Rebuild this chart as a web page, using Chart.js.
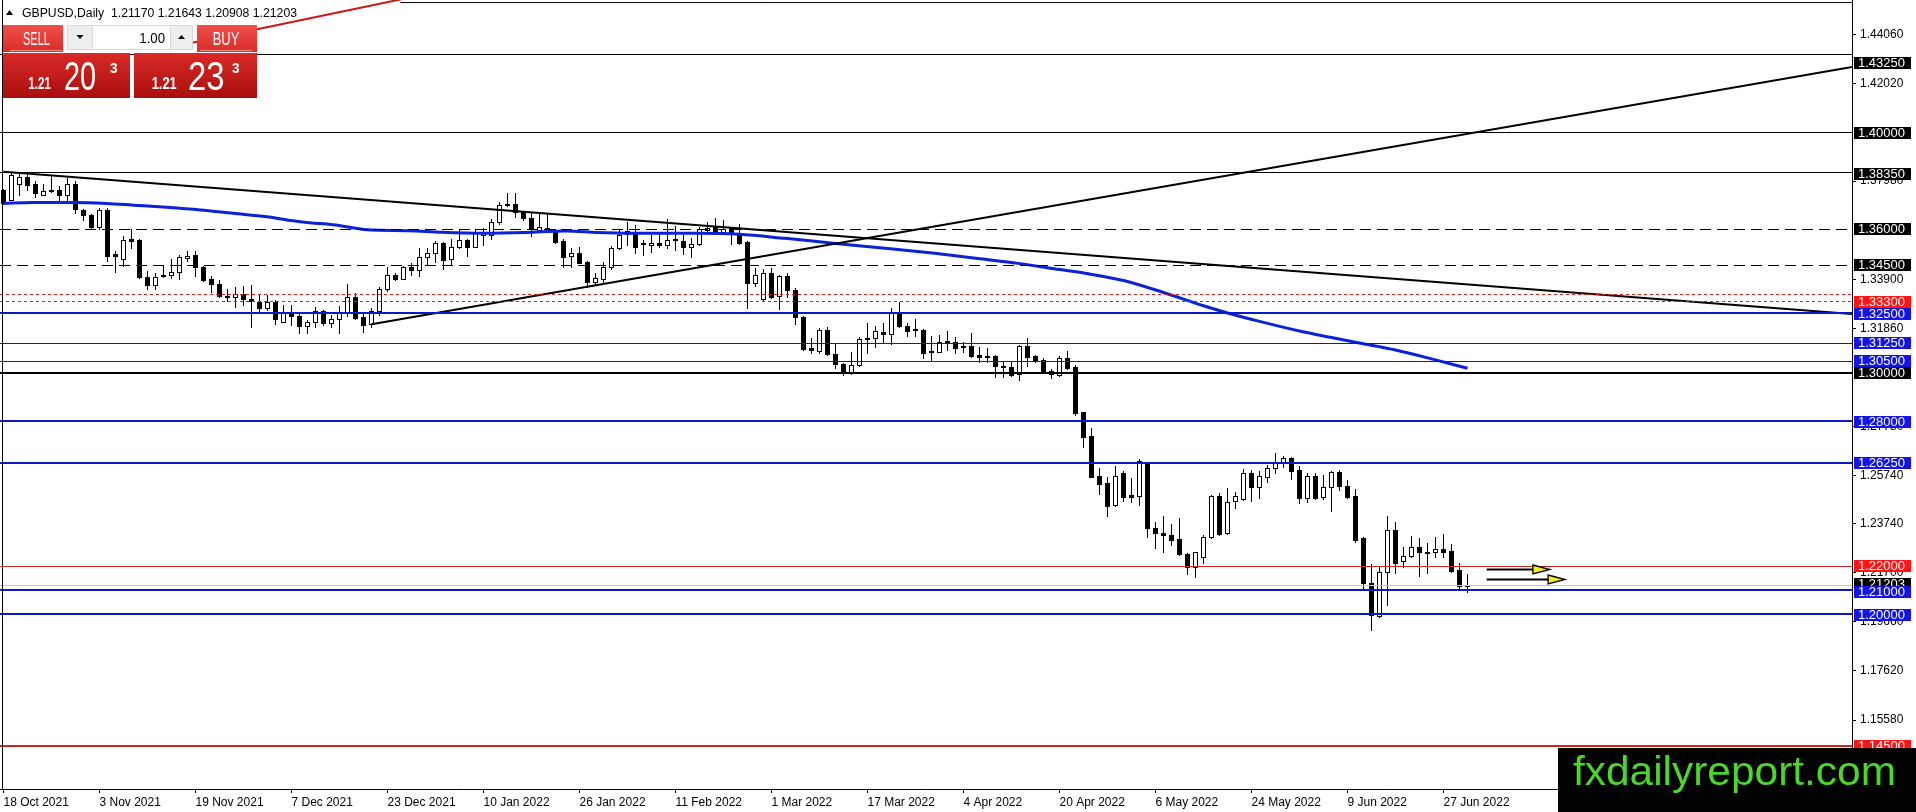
<!DOCTYPE html>
<html><head><meta charset="utf-8">
<style>html,body{margin:0;padding:0;background:#fff;overflow:hidden}canvas{display:block}</style>
<script src="https://cdn.jsdelivr.net/npm/chart.js@4.4.1/dist/chart.umd.min.js"></script>
</head><body>
<canvas id="c" width="1916" height="812" style="width:1916px;height:812px"></canvas>
<script>
// ---------- data ----------
const symbolTitle = 'GBPUSD,Daily';
const lastQuote = [1.21170, 1.21643, 1.20908, 1.21203];
const bidPrice = 1.21203;
const sellQuote = ['1.21', '20', '3'];
const buyQuote = ['1.21', '23', '3'];
const lotSize = '1.00';
const watermark = 'fxdailyreport.com';

const dateLabels = ['18 Oct 2021','3 Nov 2021','19 Nov 2021','7 Dec 2021','23 Dec 2021','10 Jan 2022','26 Jan 2022','11 Feb 2022','1 Mar 2022','17 Mar 2022','4 Apr 2022','20 Apr 2022','6 May 2022','24 May 2022','9 Jun 2022','27 Jun 2022'];
const dateLabelIndex = [0,12,24,36,48,60,72,84,96,108,120,132,144,156,168,180];

const priceTicks = [1.44060, 1.42020, 1.37980, 1.33900, 1.31860, 1.27780, 1.25740, 1.23740, 1.21700, 1.19660, 1.17620, 1.15580];

const opens = [1.3761,1.3719,1.3786,1.3816,1.3786,1.3740,1.3755,1.3761,1.3741,1.3786,1.3678,1.3658,1.3606,1.3678,1.3495,1.3474,1.3557,1.3554,1.3398,1.3366,
1.3407,1.3407,1.3421,1.3478,1.3491,1.3439,1.3391,1.3370,1.3322,1.3317,1.3328,1.3309,1.3294,1.3270,1.3294,1.3213,1.3256,1.3238,1.3197,1.3213,
1.3259,1.3208,1.3224,1.3256,1.3315,1.3234,1.3204,1.3260,1.3348,1.3408,1.3391,1.3442,1.3429,1.3484,1.3501,1.3542,1.3473,1.3523,1.3553,1.3526,
1.3574,1.3574,1.3629,1.3703,1.3703,1.3671,1.3646,1.3595,1.3605,1.3595,1.3549,1.3487,1.3501,1.3462,1.3377,1.3391,1.3442,1.3519,1.3578,1.3581,
1.3542,1.3532,1.3542,1.3532,1.3557,1.3549,1.3526,1.3537,1.3595,1.3609,1.3588,1.3602,1.3584,1.3546,1.3376,1.3307,1.3415,1.3321,1.3404,1.3345,
1.3235,1.3103,1.3092,1.3179,1.3079,1.3038,1.3000,1.3034,1.3140,1.3145,1.3170,1.3161,1.3255,1.3197,1.3183,1.3179,1.3092,1.3089,1.3132,1.3131,
1.3113,1.3113,1.3075,1.3073,1.3071,1.3030,1.3024,1.2996,1.3113,1.3071,1.3055,1.3010,1.2992,1.3061,1.3027,1.2837,1.2739,1.2572,1.2542,1.2450,
1.2583,1.2493,1.2491,1.2628,1.2355,1.2334,1.2327,1.2309,1.2248,1.2193,1.2234,1.2317,1.2489,1.2334,1.2470,1.2475,1.2583,1.2528,1.2570,1.2604,
1.2628,1.2646,1.2597,1.2480,1.2572,1.2486,1.2525,1.2588,1.2531,1.2489,1.2313,1.2126,1.1992,1.2172,1.2348,1.2219,1.2241,1.2276,1.2258,1.2255,
1.2268,1.2261,1.2182,1.21170];
const highs = [1.3765,1.3833,1.3830,1.3824,1.3800,1.3786,1.3824,1.3779,1.3811,1.3797,1.3682,1.3661,1.3686,1.3686,1.3506,1.3571,1.3599,1.3557,1.3425,1.3416,
1.3445,1.3473,1.3492,1.3509,1.3509,1.3446,1.3405,1.3388,1.3349,1.3356,1.3360,1.3366,1.3326,1.3326,1.3304,1.3284,1.3284,1.3256,1.3220,1.3273,
1.3262,1.3243,1.3280,1.3370,1.3331,1.3245,1.3272,1.3359,1.3440,1.3415,1.3445,1.3456,1.3519,1.3519,1.3551,1.3545,1.3556,1.3598,1.3556,1.3598,
1.3602,1.3639,1.3713,1.3747,1.3747,1.3675,1.3667,1.3664,1.3664,1.3598,1.3556,1.3521,1.3526,1.3465,1.3415,1.3463,1.3528,1.3595,1.3629,1.3616,
1.3553,1.3574,1.3581,1.3639,1.3611,1.3574,1.3560,1.3609,1.3629,1.3643,1.3636,1.3609,1.3620,1.3548,1.3436,1.3431,1.3436,1.3408,1.3415,1.3352,
1.3237,1.3145,1.3189,1.3193,1.3124,1.3040,1.3086,1.3151,1.3210,1.3196,1.3207,1.3272,1.3294,1.3207,1.3225,1.3183,1.3154,1.3158,1.3175,1.3151,
1.3131,1.3165,1.3110,1.3103,1.3075,1.3048,1.3052,1.3117,1.3147,1.3075,1.3061,1.3016,1.3071,1.3093,1.3034,1.2840,1.2770,1.2604,1.2567,1.2614,
1.2595,1.2565,1.2642,1.2632,1.2380,1.2406,1.2373,1.2396,1.2254,1.2258,1.2327,1.2493,1.2500,1.2521,1.2507,1.2601,1.2597,1.2595,1.2618,1.2667,
1.2655,1.2650,1.2614,1.2583,1.2583,1.2577,1.2595,1.2597,1.2556,1.2517,1.2317,1.2205,1.2196,1.2406,1.2383,1.2279,1.2323,1.2313,1.2295,1.2317,
1.2331,1.2289,1.2209,1.21643];
const lows = [1.3703,1.3719,1.3741,1.3761,1.3730,1.3740,1.3751,1.3716,1.3716,1.3664,1.3636,1.3599,1.3599,1.3467,1.3419,1.3445,1.3520,1.3395,1.3349,1.3349,
1.3401,1.3395,1.3391,1.3467,1.3405,1.3381,1.3335,1.3315,1.3301,1.3273,1.3284,1.3190,1.3259,1.3262,1.3204,1.3211,1.3201,1.3165,1.3165,1.3190,
1.3201,1.3190,1.3165,1.3238,1.3224,1.3169,1.3193,1.3242,1.3341,1.3387,1.3390,1.3408,1.3404,1.3449,1.3463,1.3431,1.3454,1.3519,1.3487,1.3524,
1.3532,1.3556,1.3618,1.3696,1.3650,1.3636,1.3570,1.3592,1.3592,1.3542,1.3440,1.3440,1.3456,1.3359,1.3366,1.3380,1.3431,1.3514,1.3532,1.3501,
1.3491,1.3505,1.3526,1.3521,1.3512,1.3495,1.3484,1.3532,1.3581,1.3584,1.3581,1.3537,1.3535,1.3272,1.3362,1.3304,1.3311,1.3266,1.3315,1.3203,
1.3096,1.3082,1.3085,1.3075,1.3020,1.2992,1.2996,1.3030,1.3085,1.3110,1.3127,1.3120,1.3193,1.3154,1.3154,1.3064,1.3050,1.3086,1.3096,1.3085,
1.3089,1.3066,1.3048,1.3048,1.2985,1.2982,1.2988,1.2971,1.3030,1.3048,1.3006,1.2978,1.2989,1.3016,1.2826,1.2694,1.2567,1.2498,1.2408,1.2449,
1.2470,1.2463,1.2452,1.2320,1.2275,1.2258,1.2286,1.2244,1.2164,1.2154,1.2212,1.2313,1.2327,1.2331,1.2438,1.2473,1.2470,1.2480,1.2549,1.2583,
1.2611,1.2559,1.2459,1.2466,1.2477,1.2475,1.2428,1.2514,1.2482,1.2299,1.2101,1.1932,1.1988,1.2036,1.2171,1.2196,1.2237,1.2158,1.2168,1.2237,
1.2234,1.2175,1.2101,1.20908];
const closes = [1.3709,1.3824,1.3816,1.3783,1.3747,1.3755,1.3759,1.3740,1.3786,1.3682,1.3658,1.3608,1.3678,1.3488,1.3488,1.3554,1.3550,1.3398,1.3366,1.3401,
1.3402,1.3421,1.3481,1.3488,1.3439,1.3387,1.3370,1.3322,1.3317,1.3328,1.3308,1.3301,1.3270,1.3294,1.3224,1.3256,1.3238,1.3194,1.3212,1.3259,
1.3207,1.3224,1.3256,1.3315,1.3229,1.3200,1.3260,1.3350,1.3408,1.3391,1.3440,1.3429,1.3484,1.3501,1.3542,1.3470,1.3523,1.3553,1.3526,1.3581,
1.3588,1.3629,1.3699,1.3697,1.3671,1.3643,1.3602,1.3609,1.3595,1.3546,1.3484,1.3501,1.3459,1.3377,1.3397,1.3442,1.3519,1.3574,1.3592,1.3526,
1.3535,1.3542,1.3532,1.3553,1.3553,1.3526,1.3537,1.3598,1.3602,1.3588,1.3598,1.3581,1.3539,1.3376,1.3408,1.3415,1.3318,1.3404,1.3345,1.3232,
1.3099,1.3096,1.3179,1.3079,1.3038,1.3000,1.3034,1.3140,1.3147,1.3176,1.3161,1.3255,1.3197,1.3176,1.3179,1.3085,1.3086,1.3131,1.3129,1.3106,
1.3107,1.3071,1.3066,1.3068,1.3030,1.3027,1.2992,1.3113,1.3068,1.3055,1.3010,1.2996,1.3061,1.3023,1.2833,1.2736,1.2570,1.2538,1.2449,1.2572,
1.2486,1.2486,1.2636,1.2355,1.2334,1.2326,1.2306,1.2247,1.2193,1.2255,1.2317,1.2489,1.2331,1.2466,1.2489,1.2583,1.2528,1.2572,1.2604,1.2632,
1.2646,1.2595,1.2480,1.2572,1.2482,1.2528,1.2588,1.2531,1.2486,1.2306,1.2126,1.1995,1.2172,1.2348,1.2212,1.2241,1.2276,1.2255,1.2255,1.2268,
1.2258,1.2179,1.2117,1.21203];

// moving average (bar index, price)
const maIndex = [0,3.6,8.7,12.9,16.2,20.4,24.6,28.7,32.9,36.2,37.9,41.2,45.5,50.6,54.8,59.8,65.2,70.2,74.3,78.5,86.8,92,97.7,104,110.2,116.4,122.7,126.8,131.1,135.2,140,145,150,153,157,162,166,170,174,179,183];
const maValues = [1.3705,1.3709,1.3709,1.3705,1.3698,1.3689,1.3678,1.3664,1.3650,1.3633,1.3626,1.3617,1.3596,1.3592,1.3585,1.3581,1.3584,1.3591,1.3584,1.3581,1.3581,1.3577,1.3560,1.3539,1.3519,1.3498,1.3473,1.3456,1.3435,1.3415,1.3385,1.3335,1.3280,1.3250,1.3215,1.3175,1.3148,1.3122,1.3096,1.3055,1.3020];

// trend lines (bar index, price)
const trendDownX = [0, 231.06];   const trendDownY = [1.3837, 1.3246];
const trendUpX = [46, 231.06];    const trendUpY = [1.3203, 1.4272];
const redTrendX = [20, 60];       const redTrendY = [1.4348, 1.4625];
const topLineX = [49.6, 231.06];  const topLineY = [1.4540, 1.4540];

// horizontal levels
const levelPrices = [1.43250, 1.40000, 1.38350, 1.36000, 1.34500, 1.33000, 1.33300, 1.32500, 1.31250, 1.30500, 1.30000, 1.28000, 1.26250, 1.22000, 1.21000, 1.20000, 1.14500];

// arrows (bar index start/end, price)
const arrowStartX = [185.4, 185.4];
const arrowEndX = [193.3, 195.2];
const arrowPrice = [1.2186, 1.2143];

// ---------- styles ----------
const BLUE = '#0b17c9', BLUEBG = '#1414e6', RED = '#cc2222', REDBG = '#ff1414';
const levelStyles = [
  {c:'#000', w:1, d:[], bg:'#000', s:9},
  {c:'#000', w:1, d:[], bg:'#000', s:1},
  {c:'#000', w:1, d:[], bg:'#000', s:2},
  {c:'#000', w:1, d:[11,6], bg:'#000', s:0},
  {c:'#000', w:1, d:[11,6], bg:'#000', s:0},
  {c:RED, w:1, d:[3,3], bg:REDBG, s:8},
  {c:RED, w:1, d:[3,3], bg:REDBG, s:8},
  {c:BLUE, w:2, d:[], bg:BLUEBG, s:1},
  {c:BLUE, w:1, d:[], bg:BLUEBG, s:0},
  {c:BLUE, w:1, d:[], bg:BLUEBG, s:0},
  {c:'#000', w:2, d:[], bg:'#000', s:0},
  {c:BLUE, w:2, d:[], bg:BLUEBG, s:1},
  {c:BLUE, w:2, d:[], bg:BLUEBG, s:0},
  {c:RED, w:1, d:[], bg:REDBG, s:0},
  {c:BLUE, w:2, d:[], bg:BLUEBG, s:2},
  {c:BLUE, w:2, d:[], bg:BLUEBG, s:1},
  {c:RED, w:2, d:[], bg:REDBG, s:0}
];
const FONT = '"Liberation Sans", Arial, sans-serif';
Chart.defaults.font.family = FONT;

function pts(xs, ys) { return xs.map((x, i) => ({x: x, y: ys[i]})); }

function fitText(ctx, text, x, y, font, color, width, align) {
  ctx.save();
  ctx.font = font; ctx.fillStyle = color; ctx.textBaseline = 'alphabetic'; ctx.textAlign = 'left';
  const w = ctx.measureText(text).width;
  const s = width / w;
  const x0 = align === 'center' ? x - width / 2 : (align === 'right' ? x - width : x);
  ctx.translate(x0, y); ctx.scale(s, 1); ctx.fillText(text, 0, 0);
  ctx.restore();
}

const candlePlugin = {
  id: 'candles',
  beforeDatasetsDraw(chart) {
    const {ctx, chartArea: a, scales: {x: xs, y: ys}} = chart;
    ctx.save();
    ctx.beginPath(); ctx.rect(a.left, a.top, a.right - a.left, a.bottom - a.top); ctx.clip();
    for (let i = 0; i < opens.length; i++) {
      const px = Math.floor(xs.getPixelForValue(i));
      const yH = Math.round(ys.getPixelForValue(highs[i]));
      const yL = Math.round(ys.getPixelForValue(lows[i]));
      const yO = ys.getPixelForValue(opens[i]);
      const yC = ys.getPixelForValue(closes[i]);
      const top = Math.round(Math.min(yO, yC));
      let bot = Math.round(Math.max(yO, yC));
      if (bot - top < 1) bot = top + 1;
      ctx.fillStyle = '#000';
      ctx.fillRect(px, yH, 1, yL - yH + 1);
      ctx.fillRect(px - 2, top, 5, bot - top + 1);
      if (closes[i] > opens[i] && bot - top > 1) {
        ctx.fillStyle = '#fff';
        ctx.fillRect(px - 1, top + 1, 3, bot - top - 1);
      }
    }
    ctx.restore();
  }
};

const levelsPlugin = {
  id: 'levels',
  afterDatasetsDraw(chart) {
    const {ctx, chartArea: a, scales: {x: xs, y: ys}} = chart;
    ctx.save();
    ctx.beginPath(); ctx.rect(a.left, a.top, a.right - a.left, a.bottom - a.top); ctx.clip();
    let yb = Math.round(ys.getPixelForValue(bidPrice)) + 0.5;
    ctx.strokeStyle = '#c4c4c4'; ctx.lineWidth = 1; ctx.setLineDash([]);
    ctx.beginPath(); ctx.moveTo(a.left, yb); ctx.lineTo(a.right, yb); ctx.stroke();
    levelPrices.forEach((p, i) => {
      const st = levelStyles[i];
      let yy = Math.round(ys.getPixelForValue(p));
      if (st.w % 2 === 1) yy += 0.5;
      ctx.strokeStyle = st.c; ctx.lineWidth = st.w; ctx.setLineDash(st.d);
      ctx.beginPath(); ctx.moveTo(a.left, yy); ctx.lineTo(a.right, yy); ctx.stroke();
    });
    ctx.setLineDash([]);
    for (let k = 0; k < arrowPrice.length; k++) {
      const x0 = xs.getPixelForValue(arrowStartX[k]);
      const x1 = xs.getPixelForValue(arrowEndX[k]);
      const yy = Math.round(ys.getPixelForValue(arrowPrice[k])) + 0.5;
      ctx.strokeStyle = '#000'; ctx.lineWidth = 2;
      ctx.beginPath(); ctx.moveTo(x0, yy); ctx.lineTo(x1 - 16, yy); ctx.stroke();
      ctx.beginPath(); ctx.moveTo(x1 - 17, yy - 4.5); ctx.lineTo(x1, yy); ctx.lineTo(x1 - 17, yy + 4.5); ctx.closePath();
      ctx.fillStyle = '#f4ee1c'; ctx.fill(); ctx.lineWidth = 1.3; ctx.stroke();
    }
    ctx.restore();
  }
};

function drawBox(ctx, x, yc, bg, text) {
  const top = Math.round(yc - 6);
  ctx.fillStyle = bg; ctx.fillRect(x, top, 57, 12);
  ctx.fillStyle = '#fff'; ctx.font = '13px ' + FONT; ctx.textAlign = 'left'; ctx.textBaseline = 'middle';
  ctx.fillText(text, x + 4, top + 6.5);
}

function drawPanel(ctx) {
  ctx.save();
  const g1 = ctx.createLinearGradient(0, 25, 0, 52);
  g1.addColorStop(0, '#f0504b'); g1.addColorStop(1, '#d92d29');
  ctx.fillStyle = g1; ctx.fillRect(3, 25, 60, 27); ctx.fillRect(197, 25, 60, 27);
  ctx.fillStyle = 'rgba(255,255,255,0.45)'; ctx.fillRect(10, 50, 52, 1); ctx.fillRect(200, 50, 52, 1);
  fitText(ctx, 'SELL', 36.5, 45, '18px ' + FONT, '#fff', 27, 'center');
  fitText(ctx, 'BUY', 226, 45, '18px ' + FONT, '#fff', 26.5, 'center');
  ctx.fillStyle = '#d8d8d8'; ctx.fillRect(67, 25, 126, 25);
  ctx.fillStyle = '#eeeeee'; ctx.fillRect(68, 26, 24, 23); ctx.fillRect(171, 26, 21, 23);
  ctx.fillStyle = '#fff'; ctx.fillRect(93, 26, 77, 23);
  ctx.fillStyle = '#000';
  ctx.beginPath(); ctx.moveTo(76.5, 35); ctx.lineTo(83.5, 35); ctx.lineTo(80, 39); ctx.closePath(); ctx.fill();
  ctx.beginPath(); ctx.moveTo(178, 39); ctx.lineTo(185, 39); ctx.lineTo(181.5, 35); ctx.closePath(); ctx.fill();
  fitText(ctx, lotSize, 165, 43, '15px ' + FONT, '#000', 25.7, 'right');
  const g2 = ctx.createLinearGradient(0, 53, 0, 98);
  g2.addColorStop(0, '#d92a27'); g2.addColorStop(1, '#a90f0d');
  ctx.fillStyle = g2; ctx.fillRect(3, 53, 127, 45); ctx.fillRect(134, 53, 123, 45);
  fitText(ctx, sellQuote[0], 28.3, 89, 'bold 16px ' + FONT, '#fff', 22.5, 'left');
  fitText(ctx, sellQuote[1], 64, 90, '41px ' + FONT, '#fff', 32, 'left');
  fitText(ctx, sellQuote[2], 110, 73, 'bold 15px ' + FONT, '#fff', 7.5, 'left');
  fitText(ctx, buyQuote[0], 151.7, 89, 'bold 16px ' + FONT, '#fff', 25, 'left');
  fitText(ctx, buyQuote[1], 188, 90, '41px ' + FONT, '#fff', 36.5, 'left');
  fitText(ctx, buyQuote[2], 232, 73, 'bold 15px ' + FONT, '#fff', 7.5, 'left');
  ctx.restore();
}

const overlayPlugin = {
  id: 'overlay',
  afterDraw(chart) {
    const {ctx, chartArea: a, scales: {y: ys}} = chart;
    ctx.save();
    ctx.fillStyle = '#000'; ctx.fillRect(2, 0, 1, a.bottom);
    const bx = ys.left + 2;
    drawBox(ctx, bx, ys.getPixelForValue(bidPrice) - 1, '#000', bidPrice.toFixed(5));
    levelPrices.forEach((p, i) => drawBox(ctx, bx, ys.getPixelForValue(p) + levelStyles[i].s, levelStyles[i].bg, p.toFixed(5)));
    ctx.fillStyle = '#000';
    ctx.beginPath(); ctx.moveTo(6, 15); ctx.lineTo(13, 15); ctx.lineTo(9.5, 10); ctx.closePath(); ctx.fill();
    fitText(ctx, symbolTitle + '  ' + lastQuote.map(v => v.toFixed(5)).join(' '), 22, 17, '12px ' + FONT, '#000', 275, 'left');
    drawPanel(ctx);
    ctx.fillStyle = '#000'; ctx.fillRect(1558, 748, 358, 64);
    fitText(ctx, watermark, 1573, 785, '41px ' + FONT, '#4cd62c', 323, 'left');
    ctx.restore();
  }
};

new Chart(document.getElementById('c'), {
  type: 'line',
  data: {
    datasets: [
      {data: pts(trendDownX, trendDownY), borderColor: '#000', borderWidth: 2, pointRadius: 0},
      {data: pts(trendUpX, trendUpY), borderColor: '#000', borderWidth: 2, pointRadius: 0},
      {data: pts(redTrendX, redTrendY), borderColor: '#d41414', borderWidth: 2, pointRadius: 0},
      {data: pts(topLineX, topLineY), borderColor: '#000', borderWidth: 1, pointRadius: 0},
      {data: pts(maIndex, maValues), borderColor: '#0c22d8', borderWidth: 3, pointRadius: 0, cubicInterpolationMode: 'monotone'}
    ]
  },
  options: {
    responsive: false, devicePixelRatio: 1, animation: false, events: [],
    layout: {padding: 0},
    plugins: {legend: {display: false}, tooltip: {enabled: false}},
    scales: {
      x: {
        type: 'linear', position: 'bottom', min: -0.4375, max: 231.0625,
        afterBuildTicks: s => { s.ticks = dateLabelIndex.map(v => ({value: v})); },
        afterFit: s => { s.height = 23; s.paddingLeft = 0; s.paddingRight = 0; },
        ticks: {autoSkip: false, maxRotation: 0, minRotation: 0, align: 'start', padding: 2,
                color: '#000', font: {size: 12, family: FONT}, callback: (v, i) => dateLabels[i]},
        grid: {drawOnChartArea: false, drawTicks: true, tickLength: 4, color: '#000'},
        border: {display: true, color: '#000', width: 1}
      },
      y: {
        type: 'linear', position: 'right', min: 1.12714, max: 1.45507,
        afterBuildTicks: s => { s.ticks = priceTicks.map(v => ({value: v})); },
        afterFit: s => { s.width = 64; s.paddingTop = 0; s.paddingBottom = 0; },
        ticks: {autoSkip: false, padding: 4, color: '#000', font: {size: 12, family: FONT},
                callback: v => Number(v).toFixed(5)},
        grid: {drawOnChartArea: false, drawTicks: true, tickLength: 4, color: '#000'},
        border: {display: true, color: '#000', width: 1}
      }
    }
  },
  plugins: [candlePlugin, levelsPlugin, overlayPlugin]
});
</script>
</body></html>
